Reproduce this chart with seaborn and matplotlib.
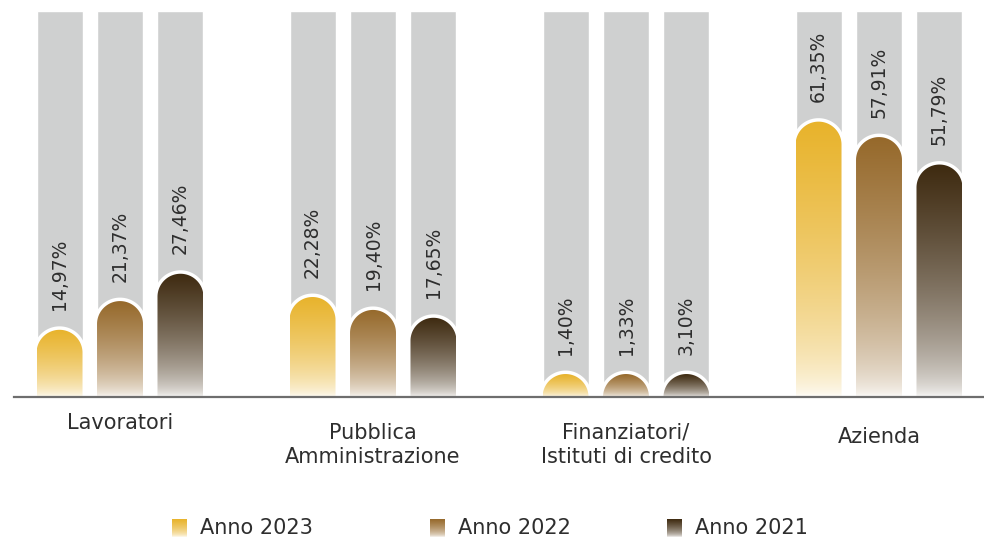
import numpy as np
import pandas as pd
import matplotlib
matplotlib.use("Agg")
import matplotlib.pyplot as plt
import seaborn as sns
from matplotlib.path import Path
from matplotlib.patches import PathPatch
from matplotlib.colors import to_rgb

# --- data -------------------------------------------------------------------
categories = ["Lavoratori", "Pubblica\nAmministrazione",
              "Finanziatori/\nIstituti di credito", "Azienda"]
years = ["Anno 2023", "Anno 2022", "Anno 2021"]
values_2023 = [14.97, 22.28, 1.40, 61.35]
values_2022 = [21.37, 19.40, 1.33, 57.91]
values_2021 = [27.46, 17.65, 3.10, 51.79]

year_colors = ["#E8B32B", "#96692B", "#3E2A10"]
track_color = "#CFD0D0"
text_color = "#2E2E2E"
scale_max = 86

series = dict(zip(years, [values_2023, values_2022, values_2021]))
rows = [(c, y, v) for y, vals in series.items() for c, v in zip(categories, vals)]
df = pd.DataFrame(rows, columns=["category", "year", "value"])
df["track"] = scale_max

# --- style ------------------------------------------------------------------
sns.set_theme(style="white")
plt.rcParams["font.family"] = ["DejaVu Sans"]

W, H = 984, 540
fig = plt.figure(figsize=(W / 100, H / 100), dpi=100)
ax = fig.add_axes([14 / W, 143 / H, 970 / W, 386 / H])

common = dict(x="category", hue="year", order=categories, hue_order=years,
              width=0.717, gap=0.24, errorbar=None, legend=False,
              saturation=1, ax=ax)

# grey tracks behind every bar
sns.barplot(df, y="track", palette=[track_color] * 3, zorder=1, **common)
# the actual values (drawn as rounded gradient columns below)
sns.barplot(df, y="value", palette=year_colors, zorder=2, **common)

ax.set_xlim(-0.419, 3.415)
ax.set_ylim(0, scale_max)


def fade(color, n=256, gamma=0.55):
    t = np.linspace(0, 1, n)[:, None]
    a = (t ** gamma)[..., None]
    c = np.array(to_rgb(color))[None, None, :]
    return 1 - a * (1 - c)


o = ax.transData.transform((0, 0))
px_x = ax.transData.transform((1, 0))[0] - o[0]
px_y = ax.transData.transform((0, 1))[1] - o[1]

theta = np.linspace(np.pi, 0, 60)
for k, container in enumerate(ax.containers[3:]):
    color = year_colors[k]
    grad = fade(color)
    for bar, val in zip(container, series[years[k]]):
        x0, w, h = bar.get_x(), bar.get_width(), bar.get_height()
        bar.set_visible(False)
        rx = w / 2
        ry = rx * px_x / px_y
        top = max(h, ry)
        xc = x0 + rx
        arc = np.column_stack([xc + rx * np.cos(theta),
                               top - ry + ry * np.sin(theta)])
        outline = np.vstack([[x0, 0], arc, [x0 + w, 0]])
        closed = np.vstack([outline, [x0, 0]])
        codes = [Path.MOVETO] + [Path.LINETO] * (len(closed) - 2) + [Path.CLOSEPOLY]
        shape = PathPatch(Path(closed, codes), transform=ax.transData)

        ax.add_patch(PathPatch(Path(outline), facecolor="none",
                               edgecolor="white", lw=5, zorder=2.5,
                               capstyle="butt", joinstyle="round"))
        im = ax.imshow(grad, extent=[x0, x0 + w, 0, top], origin="lower",
                       aspect="auto", interpolation="bilinear", zorder=3)
        im.set_clip_path(shape)

        label = f"{val:.2f}".replace(".", ",") + "%"
        ax.annotate(label, xy=(xc, top), xytext=(0, 14),
                    textcoords="offset points", rotation=90,
                    ha="center", va="bottom", fontsize=13.5, color=text_color)

ax.set_xlim(-0.419, 3.415)
ax.set_ylim(0, scale_max)

# axis cosmetics
ax.set_xticks(range(len(categories)))
ax.set_xticklabels([])
ax.set_yticks([])
ax.set_xlabel("")
ax.set_ylabel("")
ax.tick_params(length=0)
for side in ["top", "left", "right"]:
    ax.spines[side].set_visible(False)
ax.spines["bottom"].set_color("#6E6E6E")
ax.spines["bottom"].set_linewidth(1.6)
ax.spines["bottom"].set_zorder(4)

# category names under each group
label_drop_pt = [19, 34.5, 34.5, 29]
for i, (cat, drop) in enumerate(zip(categories, label_drop_pt)):
    ax.annotate(cat, xy=(i, 0), xycoords=("data", "axes fraction"),
                xytext=(0, -drop), textcoords="offset points",
                ha="center", va="center", fontsize=15, color=text_color,
                linespacing=1.25, annotation_clip=False)

# legend with faded swatches
legend_x = [172, 430, 667]
for year, color, mx in zip(years, year_colors, legend_x):
    lax = fig.add_axes([mx / W, 3 / H, 15 / W, 18 / H])
    lax.imshow(fade(color), origin="lower", aspect="auto",
               interpolation="bilinear")
    lax.axis("off")
    fig.text((mx + 28) / W, 12 / H, year, ha="left", va="center",
             fontsize=15, color=text_color)

fig.savefig("out.png", dpi=100, facecolor="white")
